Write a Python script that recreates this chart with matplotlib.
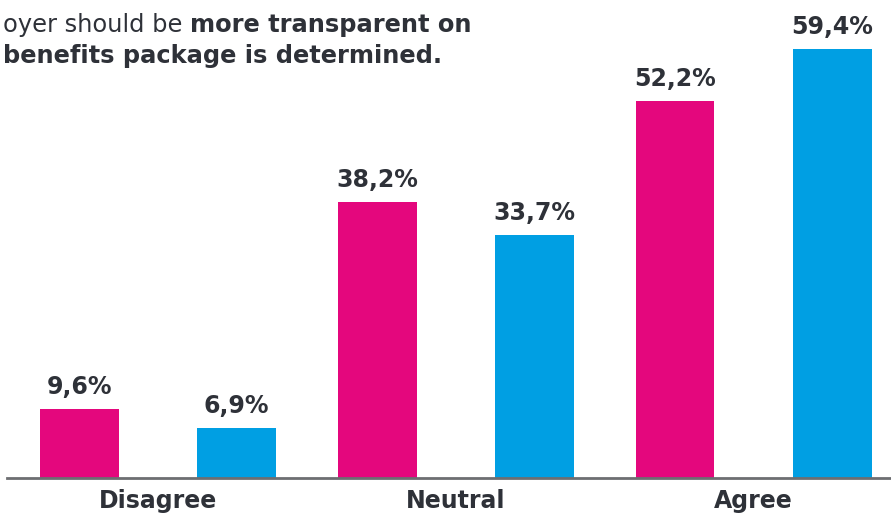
import matplotlib
matplotlib.use("Agg")
import matplotlib.pyplot as plt

categories = ["Disagree", "Neutral", "Agree"]
series_a = [9.6, 38.2, 52.2]   # magenta
series_b = [6.9, 33.7, 59.4]   # blue
labels_a = ["9,6%", "38,2%", "52,2%"]
labels_b = ["6,9%", "33,7%", "59,4%"]

MAGENTA = "#E4077D"
BLUE = "#009FE3"
TEXT = "#2E3138"
FONT = "DejaVu Sans"

W, H = 891, 515
fig = plt.figure(figsize=(W / 100, H / 100), dpi=100)
ax = fig.add_axes([7 / W, (H - 478) / H, (W - 7) / W, 478 / H])

x = list(range(len(categories)))
bw = 0.265
off = 0.264
ax.bar([i - off for i in x], series_a, width=bw, color=MAGENTA, zorder=2)
ax.bar([i + off for i in x], series_b, width=bw, color=BLUE, zorder=2)

ax.set_xlim(-0.506, 2.461)
ax.set_ylim(0, 66.2)
for s in ["top", "right", "left"]:
    ax.spines[s].set_visible(False)
ax.spines["bottom"].set_color("#6D6E71")
ax.spines["bottom"].set_linewidth(2)
ax.set_yticks([])
ax.set_xticks(x)
ax.set_xticklabels(categories, fontsize=17, fontweight="bold", color=TEXT, family=FONT)
ax.tick_params(axis="x", length=0, pad=8)

for i in x:
    ax.annotate(labels_a[i], (i - off, series_a[i]), xytext=(0, 7), textcoords="offset points",
                ha="center", va="bottom", fontsize=17, fontweight="bold", color=TEXT, family=FONT)
    ax.annotate(labels_b[i], (i + off, series_b[i]), xytext=(0, 7), textcoords="offset points",
                ha="center", va="bottom", fontsize=17, fontweight="bold", color=TEXT, family=FONT)

# Title (cropped in the reference)
t1 = fig.text(3 / W, 1 - 32 / H, "oyer should be ", fontsize=17.4, color=TEXT, family=FONT,
              ha="left", va="baseline")
ax.annotate("more transparent on", xy=(1, 0), xycoords=t1, xytext=(0, 0),
            textcoords="offset points", fontsize=17.4, fontweight="bold", color=TEXT,
            family=FONT, ha="left", va="bottom", annotation_clip=False)
fig.text(3 / W, 1 - 63 / H, "benefits package is determined.", fontsize=17.4, fontweight="bold",
         color=TEXT, family=FONT, ha="left", va="baseline")

fig.savefig("out.png", dpi=100)
